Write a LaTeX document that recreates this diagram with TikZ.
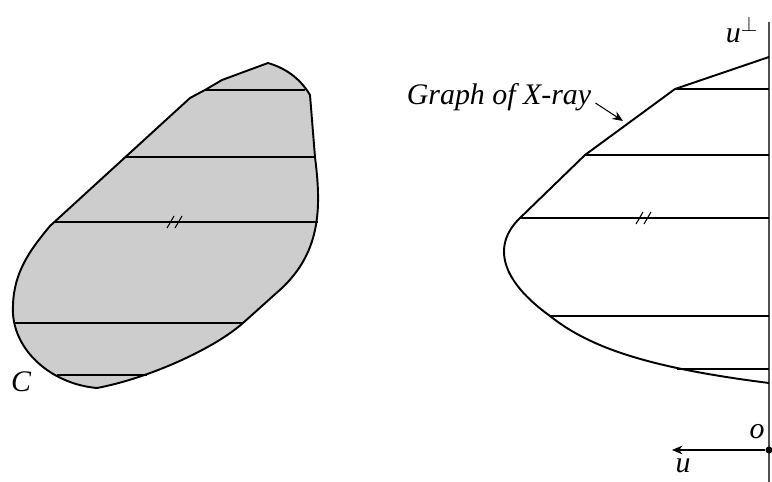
\documentclass[tikz,border=0pt]{standalone}
\usepackage{fontspec}
\setmainfont{Liberation Serif}
\usepackage{xcolor}
\definecolor{ink}{RGB}{0,0,0}
\definecolor{fog}{RGB}{205,205,205}
\definecolor{axisgray}{RGB}{80,80,80}
\usepackage{tikz}
\usetikzlibrary{arrows.meta}
\tikzset{
  rim/.style={draw=ink, line width=1.1pt, line join=round},
  chord/.style={draw=ink, line width=0.6pt},
  tickmark/.style={draw=ink, line width=0.6pt},
  axisline/.style={draw=axisgray, line width=0.9pt},
  pointer/.style={draw=ink, line width=0.6pt, -{Stealth[length=6pt,width=5pt]}},
  lbl/.style={font=\fontsize{17}{20}\selectfont\itshape, inner sep=0pt},
  dot/.style={circle, fill=ink, inner sep=0pt, minimum size=4pt},
}

\begin{document}
\begin{tikzpicture}[x=0.02cm,y=-0.02cm]
\useasboundingbox (0,0) rectangle (772,482);
\filldraw[rim, fill=fog] (50,226) -- (190,98) -- (205,90) -- (222,80) -- (268,63)
  .. controls (285,68) and (300,78) .. (310,95) -- (315,157)
  .. controls (321,205) and (322,250) .. (282,288) -- (243,323)
  .. controls (215,348) and (150,378) .. (97,388)
  .. controls (50,384) and (10,348) .. (13,305)
  .. controls (14,272) and (30,250) .. (50,226) -- cycle;
\foreach \y/\a/\b in {90/205/305, 157/125/315, 222/54/318, 323/15/243, 375/57/147}
  \draw[chord] (\a,\y) -- (\b,\y);
\draw[tickmark] (167,228) -- (174,216) (175,228) -- (182,216);

\draw[axisline] (769,22) -- (769,482);
\foreach \y/\a in {89/675, 155/585, 218/520, 316/550, 369/677}
  \draw[chord] (\a,\y) -- (769,\y);
\draw[rim] (769,57) -- (675,89) -- (585,155) -- (520,218)
  .. controls (492,245) and (500,280) .. (550,316)
  .. controls (590,348) and (650,368) .. (769,383);
\draw[tickmark] (636,224) -- (643,212) (644,224) -- (651,212);

\node[lbl] (graphlbl) at (499,97) {Graph of X-ray};
\coordinate (hit) at (623,121);
\draw[pointer] ([xshift=0.8mm,yshift=-1.2mm]graphlbl.east) -- (hit);
\node[lbl] (perp) at (742,30) {u$^{\perp}$};
\node[lbl] (clbl) at (21,382) {C};
\node[dot] (orig) at (769,450) {};
\node[lbl] (olbl) at (757,432) {o};
\coordinate (utip) at (672,450);
\draw[pointer] (orig) -- (utip);
\node[lbl] (ulbl) at (683,466) {u};
\end{tikzpicture}
\end{document}
